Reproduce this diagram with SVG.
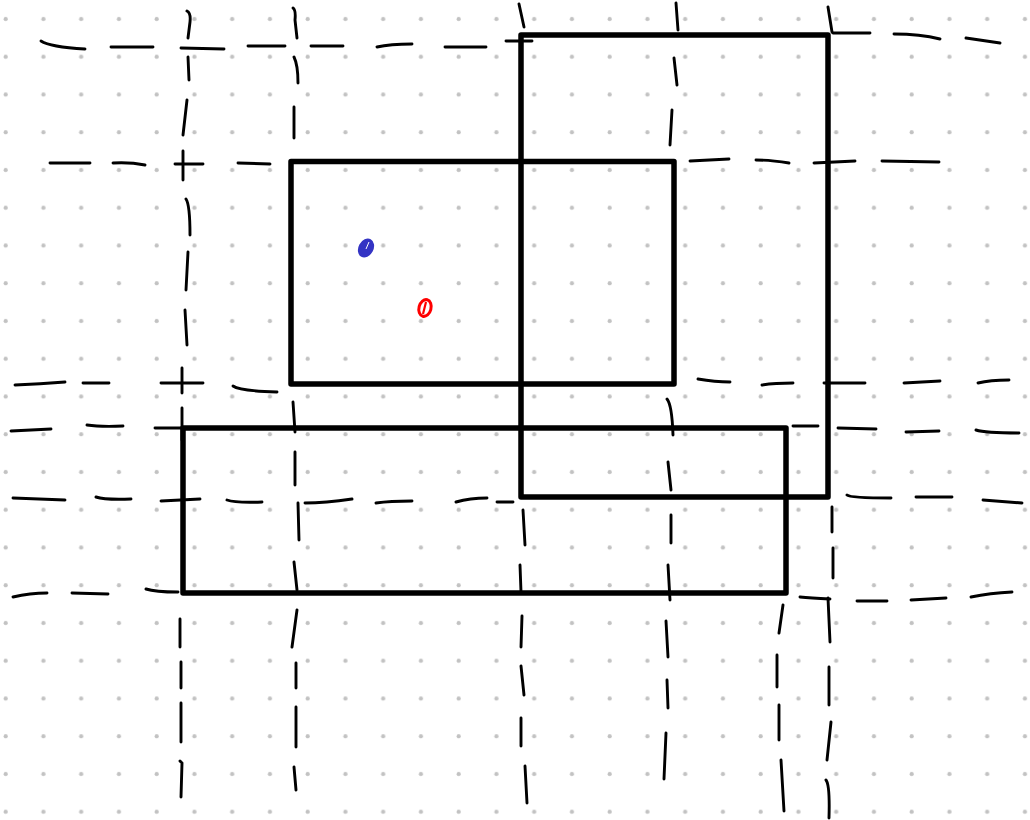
<svg xmlns="http://www.w3.org/2000/svg" width="1030" height="820" viewBox="0 0 1030 820">
<defs>
<pattern id="dots" patternUnits="userSpaceOnUse" x="0" y="0" width="37.75" height="37.75">
<circle cx="5.7" cy="19" r="2.1" fill="#c2c2c2"/>
</pattern>
<style>
.box{fill:none;stroke:#000;stroke-width:5.5;stroke-linejoin:round}
.g path{fill:none;stroke:#000;stroke-width:2.9;stroke-linecap:round}
</style>
</defs>
<rect width="1030" height="820" fill="#fff"/>
<rect width="1030" height="820" fill="url(#dots)"/>
<g id="connectors" class="g">
<path d="M41,41 Q50,47 85,49 M111,47 L153,47 M181,48 L224,49 M248,46 L285,46 M311,46 L343,46 M377,47 Q390,44 412,44 M445,47 L486,47 M506,41 L532,41 M833,33 L870,33 M894,34 Q920,34 940,39 M966,38 L1000,43"/>
<path d="M50,163 L90,163 M113,163 Q130,162 145,165 M175,164 L203,164 M238,163 L270,164 M690,161 L729,159 M756,160 Q770,160 789,163 M814,163 L855,161 M882,161 L939,162"/>
<path d="M15,385 Q40,384 65,382 M83,383 L109,383 M161,383 L203,383 M233,386 Q240,391 277,392 M698,379 Q715,382 730,382 M762,385 Q775,383 793,383 M824,383 L865,383 M904,383 L940,381 M978,383 Q990,380 1009,380"/>
<path d="M11,431 L51,429 M87,425 Q100,427 123,426 M155,428 L182,428 M793,426 L818,426 M838,428 L876,429 M906,432 L939,431 M976,430 Q985,433 1019,433"/>
<path d="M13,498 L65,500 M96,497 Q105,500 131,499 M161,501 L200,499 M227,500 Q235,503 262,502 M305,503 Q325,503 352,499 M376,503 Q390,501 412,501 M456,502 Q470,498 487,498 M497,502 L513,502 M847,495 Q850,498 891,498 M916,497 L952,497 M983,500 L1022,503"/>
<path d="M13,597 Q30,593 47,593 M72,593 L108,594 M146,589 Q155,592 178,592 M800,597 Q810,598 830,599 M857,601 L887,601 M911,600 L946,598 M971,597 Q990,593 1012,592"/>
<path d="M187,11 Q191,13 190,22 L188,38 M188,57 L189,80 M187,100 L183,135 M183,151 L183,180 M186,199 Q190,205 190,235 M188,252 L186,290 M185,310 L187,345 M182,368 L182,393 M182,408 L182,440 M180,619 L180,647 M181,662 L181,688 M181,703 L181,742 M180,761 L182,763 L181,797"/>
<path d="M293,8 Q296,10 295,20 L297,38 M294,57 Q298,65 298,83 M294,107 L294,138 M293,402 L295,432 M295,452 L295,485 M298,503 L299,540 M294,562 L297,590 M297,610 L292,647 M296,663 L296,688 M296,707 L296,747 M294,767 L296,790"/>
<path d="M519,4 L524,27 M523,510 L525,545 M520,565 L521,592 M522,616 L521,647 M521,666 L524,695 M521,718 L521,746 M525,766 L527,803"/>
<path d="M676,3 L678,30 M674,58 L677,85 M672,110 L670,145 M667,399 Q672,405 673,435 M668,462 L671,490 M671,515 L671,543 M668,565 L670,600 M666,621 L668,657 M667,680 L668,708 M666,733 L664,779"/>
<path d="M783,605 L779,633 M777,655 L777,687 M779,705 L779,740 M781,760 L784,811"/>
<path d="M828,7 L832,32 M832,507 L832,532 M833,548 L833,578 M828,598 L830,642 M829,667 L829,705 M831,722 L827,760 M826,780 Q830,785 829,818"/>
</g>
<g id="box-tall">
<rect class="box" x="521" y="35" width="307" height="462"/>
</g>
<g id="box-middle">
<rect class="box" x="291" y="161.5" width="383" height="222.5"/>
</g>
<g id="box-wide">
<rect class="box" x="183" y="428" width="603" height="165"/>
</g>
<g id="blue-point">
<ellipse cx="366" cy="248" rx="7.5" ry="10" transform="rotate(28 366 248)" fill="#3434c4"/>
<path d="M369,242 L366,249" stroke="#fff" stroke-width="1" fill="none"/>
</g>
<g id="red-point">
<ellipse cx="425" cy="308" rx="6" ry="8.5" transform="rotate(15 425 308)" fill="none" stroke="#ff0000" stroke-width="3"/>
<path d="M426,302 L423,314" stroke="#ff0000" stroke-width="2.2" fill="none"/>
</g>
</svg>
